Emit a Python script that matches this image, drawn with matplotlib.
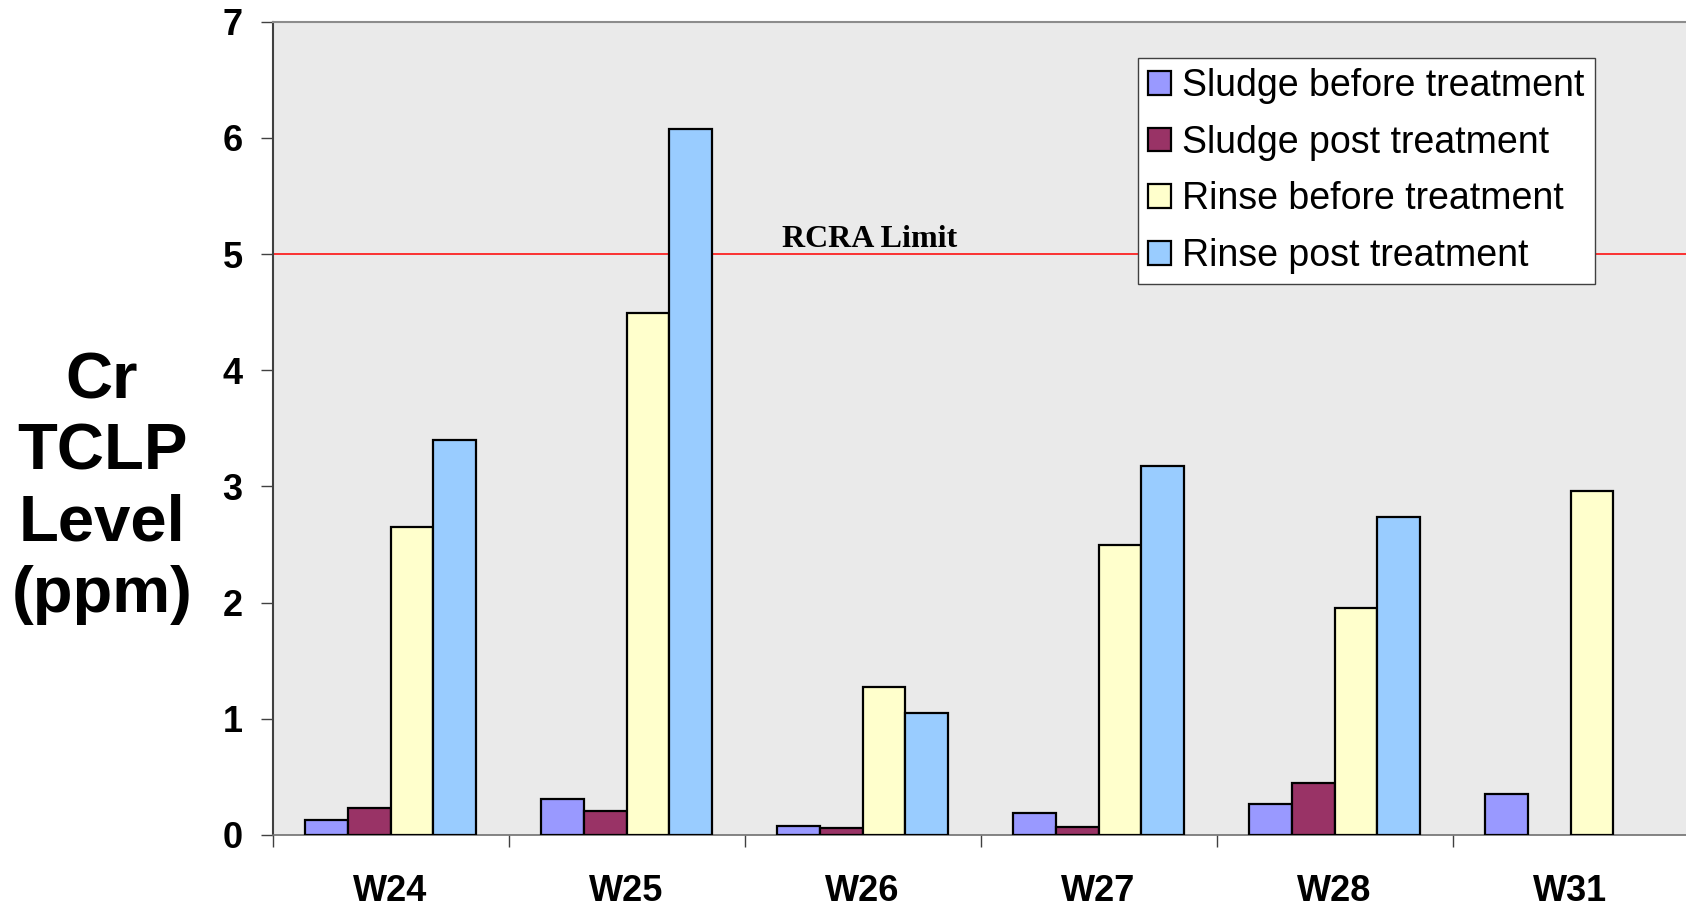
import numpy as np
import matplotlib
matplotlib.use("Agg")
import matplotlib.pyplot as plt
from matplotlib.ticker import FixedLocator

# ---------------------------------------------------------------------------
# Chart data
# ---------------------------------------------------------------------------
sites = ["W24", "W25", "W26", "W27", "W28", "W31"]
sludge_before = [0.13, 0.31, 0.08, 0.19, 0.27, 0.35]
sludge_post = [0.23, 0.21, 0.06, 0.07, 0.45, np.nan]
rinse_before = [2.65, 4.49, 1.27, 2.50, 1.95, 2.96]
rinse_post = [3.40, 6.08, 1.05, 3.18, 2.74, np.nan]

series_labels = [
    "Sludge before treatment",
    "Sludge post treatment",
    "Rinse before treatment",
    "Rinse post treatment",
]
series_colors = ["#9999FF", "#993366", "#FFFFCC", "#99CCFF"]

rcra_limit = 5
y_ticks = [0, 1, 2, 3, 4, 5, 6, 7]

W, H = 1686, 908
plt.rcParams["font.family"] = ["Liberation Sans", "DejaVu Sans"]

fig = plt.figure(figsize=(W / 100, H / 100), dpi=100)
fig.patch.set_facecolor("white")

# plot area in pixels: left 272.5, right 1688.5, y=0 at 835, y=7 at 21.7
ax = fig.add_axes([272.5 / W, (H - 835) / H, (1688.5 - 272.5) / W, (835 - 21.7) / H])
ax.set_facecolor("#EAEAEA")

x = np.arange(len(sites))
bar_w = 0.181
all_series = [sludge_before, sludge_post, rinse_before, rinse_post]
for i, (vals, lab, col) in enumerate(zip(all_series, series_labels, series_colors)):
    ax.bar(x + (i - 1.5) * bar_w, vals, width=bar_w, color=col,
           edgecolor="black", linewidth=1.6, label=lab, zorder=3)

# RCRA limit line + label
ax.axhline(rcra_limit, color="#FF0000", linewidth=1.1, zorder=2)
ax.text(1.658, 5.063, "RCRA Limit", family="Liberation Serif", fontweight="bold",
        fontsize=23, ha="left", va="baseline", zorder=4)

ax.set_xlim(-0.5, len(sites) - 0.5)
ax.set_ylim(0, 7)

# y axis
ax.set_yticks(y_ticks)
ax.tick_params(axis="y", direction="out", length=8.5, width=1, color="#404040",
               pad=13, labelsize=26)
for t in ax.get_yticklabels():
    t.set_fontweight("bold")

# x axis: labels at centres, ticks between categories
ax.set_xticks(x)
ax.set_xticklabels(sites, fontweight="bold", fontsize=26)
ax.tick_params(axis="x", which="major", length=0, pad=28)
ax.xaxis.set_minor_locator(FixedLocator(np.arange(-0.5, len(sites), 1.0)))
ax.tick_params(axis="x", which="minor", direction="out", length=8.5, width=1,
               color="#404040")

ax.spines["left"].set_color("#404040")
ax.spines["left"].set_linewidth(1.5)
ax.spines["bottom"].set_color("#707070")
ax.spines["bottom"].set_linewidth(1.2)
ax.spines["top"].set_color("#8C8C8C")
ax.spines["top"].set_linewidth(1.5)
ax.spines["right"].set_visible(False)

# y label as a stacked block of text
fig.text(102 / W, 1 - 488 / H, "Cr\nTCLP\nLevel\n(ppm)", ha="center", va="center",
         multialignment="center", fontsize=47, fontweight="bold", linespacing=1.24)

leg = ax.legend(loc="upper left", bbox_to_anchor=(1137.7 / W, (H - 57.5) / H),
                bbox_transform=fig.transFigure, borderaxespad=0, fontsize=27,
                frameon=True, fancybox=False, handlelength=0.6, handleheight=0.6,
                handletextpad=0.3, labelspacing=0.55, borderpad=0.28)
leg.get_frame().set_edgecolor("#404040")
leg.get_frame().set_linewidth(1.0)
leg.get_frame().set_facecolor("white")
leg.get_frame().set_alpha(1)
leg.set_zorder(5)

fig.savefig("out.png", dpi=100)
